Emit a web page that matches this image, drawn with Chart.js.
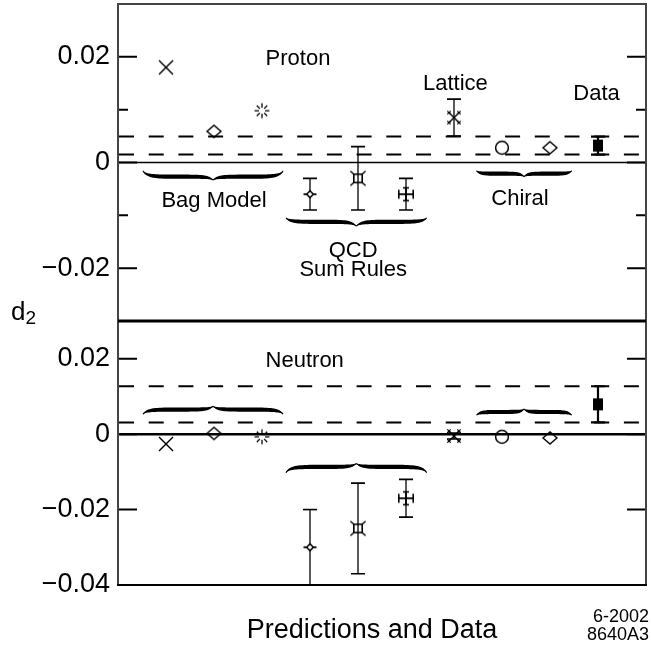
<!DOCTYPE html>
<html><head><meta charset="utf-8">
<script src="https://cdn.jsdelivr.net/npm/chart.js@4.4.1/dist/chart.umd.min.js"></script>
<style>
html,body{margin:0;padding:0;background:#fff;}
#wrap{position:relative;width:651px;height:645px;overflow:hidden;background:#fff;}
canvas{position:absolute;left:0;}
#cTop{top:0;}
#cBot{top:312px;}
</style></head><body>
<div id="wrap">
<canvas id="cBot" width="651" height="333"></canvas>
<canvas id="cTop" width="651" height="330"></canvas>
</div>
<script>
const FONT = '"Liberation Sans", Arial, Helvetica, sans-serif';

// ---------------- data ----------------
const categories = ['Bag Model 1','Bag Model 2','Bag Model 3','QCD Sum Rules 1','QCD Sum Rules 2','QCD Sum Rules 3','Lattice','Chiral 1','Chiral 2','Data'];
const protonD2   = [0.018, 0.0059, 0.0098, -0.006, -0.003, -0.006, 0.0085, 0.0028, 0.0028, 0.0032];
const protonErr  = [null, null, null, 0.003, 0.006, 0.003, 0.0035, null, null, 0.0017];
const neutronD2  = [-0.0026, 0.0002, -0.0007, -0.030, -0.025, -0.017, -0.0005, -0.0007, -0.001, 0.0079];
const neutronErr = [null, null, null, 0.010, 0.012, 0.005, 0.0008, null, null, 0.0048];
const protonTicks  = [0.02, 0, -0.02];
const protonMinor  = [0.01, -0.01];
const neutronTicks = [0.02, 0, -0.02, -0.04];
const neutronMinor = [];
const markerKinds = ['x','diamond','asterisk','qcdDiamond','qcdSquare','qcdCross','lattice','circle','diamond','dataSquare'];

// ---------------- markers ----------------
function makeMarker(kind){
  const S = 22, m = S/2;
  const c = document.createElement('canvas'); c.width = S; c.height = S;
  const g = c.getContext('2d');
  g.strokeStyle = '#000'; g.fillStyle = '#000'; g.lineWidth = 1.3;
  const line = (x1,y1,x2,y2,w)=>{ g.lineWidth = w||1.3; g.beginPath(); g.moveTo(m+x1,m+y1); g.lineTo(m+x2,m+y2); g.stroke(); };
  switch(kind){
    case 'x': line(-7,-7,7,7,1.4); line(7,-7,-7,7,1.4); break;
    case 'diamond':
      g.lineWidth=1.4; g.beginPath(); g.moveTo(m-7,m); g.lineTo(m,m-6); g.lineTo(m+7,m); g.lineTo(m,m+6); g.closePath(); g.stroke(); break;
    case 'asterisk':
      for(let k=0;k<8;k++){ const a=k*Math.PI/4; line(Math.cos(a)*3,Math.sin(a)*3,Math.cos(a)*7.4,Math.sin(a)*7.4,1.3); }
      break;
    case 'qcdDiamond':
      line(-6.5,0,6.5,0,1.8);
      g.fillStyle='#fff'; g.beginPath(); g.moveTo(m-3.4,m); g.lineTo(m,m-3.4); g.lineTo(m+3.4,m); g.lineTo(m,m+3.4); g.closePath(); g.fill();
      g.lineWidth=1.5; g.stroke(); break;
    case 'qcdSquare':
      g.lineWidth=1.6; g.strokeRect(m-4.2,m-4.2,8.4,8.4);
      line(-4.2,-4.2,-7.6,-7.2,1.4); line(4.2,-4.2,7.6,-7.2,1.4); line(-4.2,4.2,-7.6,7.2,1.4); line(4.2,4.2,7.6,7.2,1.4);
      break;
    case 'qcdCross':
      line(-7.2,0,7.2,0,1.8); line(-7.2,-4.5,-7.2,4.5,1.6); line(7.2,-4.5,7.2,4.5,1.6);
      line(0,-6.4,0,6.4,1.8); line(-3,-6.4,3,-6.4,1.6); line(-3,6.4,3,6.4,1.6);
      break;
    case 'lattice':
      line(-5,-5,5,5,1.4); line(5,-5,-5,5,1.4);
      [[-5,-5],[5,-5],[-5,5],[5,5]].forEach(([px,py])=>{ line(px-1.7,py-1.7,px+1.7,py+1.7,1.2); line(px+1.7,py-1.7,px-1.7,py+1.7,1.2); });
      break;
    case 'circle':
      g.lineWidth=1.5; g.beginPath(); g.arc(m,m,6.4,0,Math.PI*2); g.stroke(); break;
    case 'dataSquare':
      g.fillRect(m-5,m-6,10,12); break;
  }
  return c;
}

// ---------------- annotations (layout only) ----------------
const topLabels = [
  {t:'Proton', x:3.75, y:0.0184}, {t:'Lattice', x:7.03, y:0.0137}, {t:'Data', x:9.97, y:0.0118},
  {t:'Bag Model', x:2.0, y:-0.0084}, {t:'Chiral', x:8.375, y:-0.0080},
  {t:'QCD', x:4.9, y:-0.0179}, {t:'Sum Rules', x:4.9, y:-0.0214}
];
const botLabels = [ {t:'Neutron', x:3.89, y:0.0177} ];
const topBraces = [
  {x1:0.52, x2:3.44, y:-0.00155, s:1, flat:6, tip:9.3},
  {x1:3.50, x2:6.43, y:-0.01048, s:1, flat:4, tip:8.3},
  {x1:7.47, x2:9.45, y:-0.00155, s:1, flat:3, tip:6}
];
const botBraces = [
  {x1:0.52, x2:3.44, y:0.00527, s:-1, flat:4.7, tip:8},
  {x1:3.50, x2:6.43, y:-0.01022, s:-1, flat:5.8, tip:9.2},
  {x1:7.47, x2:9.45, y:0.0050, s:-1, flat:3.3, tip:6.3}
];

function cubicPts(p0,p1,p2,p3,n){
  const out=[];
  for(let i=0;i<=n;i++){ const t=i/n, u=1-t;
    out.push([u*u*u*p0[0]+3*u*u*t*p1[0]+3*u*t*t*p2[0]+t*t*t*p3[0], u*u*u*p0[1]+3*u*u*t*p1[1]+3*u*t*t*p2[1]+t*t*t*p3[1]]); }
  return out;
}
function halfCurve(xa,xm,y0,s,flat,tip){
  const h = xm-xa, yf = y0+s*flat;
  const a = cubicPts([xa,y0],[xa+0.04*h,yf],[xa+0.2*h,yf],[xa+0.5*h,yf],20);
  const b = cubicPts([xa+0.5*h,yf],[xa+0.85*h,yf],[xm-0.06*h,yf],[xm,y0+s*tip],20);
  return a.concat(b.slice(1));
}
function drawBrace(ctx,xa,xb,y0,s,flat,tip){
  const xm=(xa+xb)/2, d=2.1;
  ctx.save(); ctx.fillStyle='#000'; ctx.strokeStyle='#000'; ctx.lineWidth=1.1;
  [xa,xb].forEach(xe=>{
    const up = halfCurve(xe,xm,y0,s,flat+d,tip);
    const dn = halfCurve(xe,xm,y0,s,flat-d,tip);
    ctx.beginPath();
    up.forEach((p,i)=> i? ctx.lineTo(p[0],p[1]) : ctx.moveTo(p[0],p[1]));
    dn.slice().reverse().forEach(p=>ctx.lineTo(p[0],p[1]));
    ctx.closePath(); ctx.fill();
    const mid = halfCurve(xe,xm,y0,s,flat,tip);
    ctx.beginPath(); mid.forEach((p,i)=> i? ctx.lineTo(p[0],p[1]) : ctx.moveTo(p[0],p[1])); ctx.stroke();
  });
  ctx.restore();
}

function fmt(v){
  const r = Math.round(v*1000)/1000;
  if (r === 0) return '0';
  return (r<0?'\u2212':'') + Math.abs(r).toFixed(2);
}

function yScale(min,max,ticks){
  return {
    type:'linear', min:min, max:max, position:'left',
    afterBuildTicks:(s)=>{ s.ticks = ticks.map(v=>({value:v})); },
    ticks:{ callback:(v)=>fmt(v), font:{family:FONT,size:27}, color:'#000', padding:8, autoSkip:false, maxRotation:0 },
    grid:{display:false, drawTicks:false}, border:{display:false},
    afterFit:(s)=>{ s.width=118; s.paddingTop=0; s.paddingBottom=0; }
  };
}

function panelPlugin(cfg){
  return {
    id:'panel_'+cfg.name,
    beforeDatasetsDraw(chart){
      const ctx=chart.ctx, a=chart.chartArea, xs=chart.scales.x, ys=chart.scales.y;
      ctx.save();
      // band = data value +/- its error (dashed)
      const iD = categories.length-1;
      const lo = cfg.vals[iD]-cfg.errs[iD], hi = cfg.vals[iD]+cfg.errs[iD];
      ctx.strokeStyle='#000'; ctx.lineWidth=2; ctx.setLineDash([15,14.7]); ctx.lineDashOffset=-1;
      [lo,hi].forEach(v=>{ const y=ys.getPixelForValue(v); ctx.beginPath(); ctx.moveTo(a.left,y); ctx.lineTo(a.right,y); ctx.stroke(); });
      ctx.setLineDash([]);
      // zero line
      const y0=ys.getPixelForValue(0);
      ctx.lineWidth=cfg.zeroW; ctx.beginPath(); ctx.moveTo(a.left,y0); ctx.lineTo(a.right,y0); ctx.stroke();
      // error bars
      cfg.vals.forEach((v,i)=>{
        const e=cfg.errs[i]; if(e==null) return;
        const x=xs.getPixelForValue(i+1);
        const yt=ys.getPixelForValue(Math.min(v+e, ys.max)), yb=ys.getPixelForValue(Math.max(v-e, ys.min));
        ctx.lineWidth=(i===iD)?2.2:1.3; ctx.beginPath(); ctx.moveTo(x,yt); ctx.lineTo(x,yb); ctx.stroke();
        ctx.lineWidth=(i===iD)?2.2:1.6;
        ctx.beginPath();
        if (v+e < ys.max) { ctx.moveTo(x-7,yt); ctx.lineTo(x+7,yt); }
        if (v-e > ys.min) { ctx.moveTo(x-7,yb); ctx.lineTo(x+7,yb); }
        ctx.stroke();
      });
      // braces
      cfg.braces.forEach(b=> drawBrace(ctx, xs.getPixelForValue(b.x1), xs.getPixelForValue(b.x2), ys.getPixelForValue(b.y), b.s, b.flat, b.tip));
      ctx.restore();
    },
    afterDraw(chart){
      const ctx=chart.ctx, a=chart.chartArea, xs=chart.scales.x, ys=chart.scales.y;
      ctx.save();
      // inward tick marks, both sides
      ctx.strokeStyle='#000'; ctx.lineWidth=2;
      const mark=(v,len)=>{ const y=ys.getPixelForValue(v); ctx.beginPath(); ctx.moveTo(a.left,y); ctx.lineTo(a.left+len,y); ctx.moveTo(a.right,y); ctx.lineTo(a.right-len,y); ctx.stroke(); };
      cfg.major.forEach(v=>{ if(v>ys.min && v<ys.max) mark(v,19); });
      cfg.minor.forEach(v=>mark(v,10));
      // frame
      ctx.strokeStyle='#444'; ctx.lineWidth=2;
      ctx.beginPath(); ctx.moveTo(a.left,a.top); ctx.lineTo(a.left,a.bottom); ctx.moveTo(a.right,a.top); ctx.lineTo(a.right,a.bottom); ctx.stroke();
      if (cfg.name==='top'){
        ctx.beginPath(); ctx.moveTo(a.left-1,a.top); ctx.lineTo(a.right+1,a.top); ctx.stroke();
        ctx.strokeStyle='#000'; ctx.lineWidth=3;
        ctx.beginPath(); ctx.moveTo(a.left,a.bottom); ctx.lineTo(a.right,a.bottom); ctx.stroke();
      } else {
        ctx.strokeStyle='#000'; ctx.lineWidth=2;
        ctx.beginPath(); ctx.moveTo(a.left-1,a.bottom); ctx.lineTo(a.right+1,a.bottom); ctx.stroke();
      }
      // labels
      ctx.fillStyle='#000'; ctx.textAlign='center'; ctx.textBaseline='alphabetic';
      ctx.font='22px '+FONT;
      cfg.labels.forEach(l=> ctx.fillText(l.t, xs.getPixelForValue(l.x), ys.getPixelForValue(l.y)));
      if (cfg.name==='top'){
        ctx.textAlign='left';
        ctx.font='26px '+FONT; ctx.fillText('d', 11, 320);
        const w = ctx.measureText('d').width;
        ctx.font='19px '+FONT; ctx.fillText('2', 11+w, 324);
      } else {
        ctx.textAlign='center'; ctx.font='27px '+FONT;
        ctx.fillText('Predictions and Data', 372, 326);
        ctx.textAlign='right'; ctx.font='18px '+FONT;
        ctx.fillText('6-2002', 649, 310);
        ctx.fillText('8640A3', 649, 328);
      }
      ctx.restore();
    }
  };
}

function makeChart(id, name, vals, errs, ymin, ymax, ticks, major, minor, labels, braces, pad){
  return new Chart(document.getElementById(id), {
    type:'scatter',
    data:{ datasets:[{
      label:name,
      data: categories.map((c,i)=>({x:i+1, y:vals[i]})),
      pointStyle: markerKinds.map(makeMarker),
      pointRadius: 8, pointHoverRadius: 8, showLine:false
    }]},
    options:{
      responsive:false, animation:false, devicePixelRatio:1,
      layout:{ padding: pad, autoPadding:false },
      plugins:{ legend:{display:false}, tooltip:{enabled:false} },
      events: [],
      scales:{
        x:{ type:'linear', min:0, max:11, display:false },
        y: yScale(ymin, ymax, ticks)
      }
    },
    plugins:[ panelPlugin({name:name, vals:vals, errs:errs, major:major, minor:minor, labels:labels, braces:braces, zeroW: name==='top'?1.5:2.5}) ]
  });
}

makeChart('cBot','bottom', neutronD2, neutronErr, -0.04, 0.03, neutronTicks, [0.02,0,-0.02], neutronMinor, botLabels, botBraces, {top:9, bottom:60, left:0, right:5});
makeChart('cTop','top', protonD2, protonErr, -0.03, 0.03, protonTicks, [0.02,0,-0.02], protonMinor, topLabels, topBraces, {top:4, bottom:9, left:0, right:5});
</script>
</body></html>
